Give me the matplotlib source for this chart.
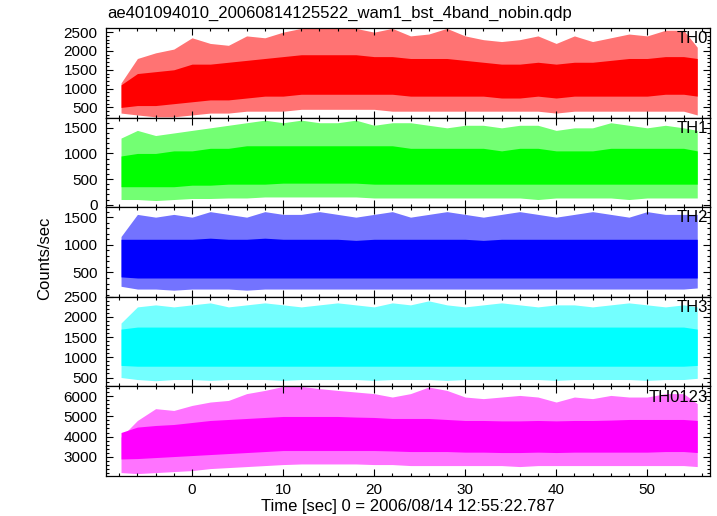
#!/usr/bin/env python3
"""
WAM 4-band light curve (TH0..TH3 and sum), drawn as read-off envelopes
"""

import numpy as np
import matplotlib
matplotlib.use("Agg")
import matplotlib.pyplot as plt
from matplotlib.ticker import MultipleLocator

plt.rcParams['font.family'] = ['Liberation Sans', 'DejaVu Sans']

# Time grid of the envelope readings (sec)
time = [-7.8, -6, -4, -2, 0, 2, 4, 6, 8, 10, 12, 14, 16, 18, 20, 22, 24, 26, 28,
        30, 32, 34, 36, 38, 40, 42, 44, 46, 48, 50, 52, 54, 55.5]

bands = ['TH0', 'TH1', 'TH2', 'TH3', 'TH0123']
colors = ['#ff0000', '#00ff00', '#0000ff', '#00ffff', '#ff00ff']

# spike maxima / dense band top / dense band bottom / spike minima (counts/sec)
th0_max = [1150, 1800, 1950, 2050, 2350, 2200, 2150, 2400, 2350, 2500, 2600, 2600, 2600, 2600, 2500, 2600, 2400,
           2450, 2600, 2400, 2300, 2250, 2300, 2400, 2200, 2400, 2250, 2350, 2450, 2400, 2550, 2550, 2100]
th0_hi = [1100, 1400, 1450, 1500, 1650, 1650, 1700, 1750, 1800, 1850, 1900, 1900, 1900, 1900, 1850, 1850, 1800,
          1800, 1800, 1750, 1700, 1650, 1650, 1700, 1650, 1700, 1700, 1750, 1800, 1800, 1850, 1850, 1800]
th0_lo = [500, 550, 550, 600, 650, 700, 700, 750, 800, 800, 850, 850, 850, 850, 850, 850, 800,
          800, 800, 800, 800, 750, 750, 800, 750, 800, 800, 800, 800, 800, 850, 850, 800]
th0_min = [350, 300, 250, 250, 300, 350, 350, 400, 400, 400, 450, 450, 450, 450, 450, 400, 400,
           400, 400, 400, 400, 400, 400, 400, 350, 400, 400, 400, 400, 400, 400, 400, 300]

th1_max = [1300, 1450, 1350, 1400, 1450, 1500, 1550, 1600, 1650, 1600, 1650, 1600, 1600, 1650, 1550, 1600, 1600,
           1550, 1500, 1550, 1550, 1500, 1550, 1550, 1450, 1500, 1500, 1600, 1550, 1500, 1550, 1500, 1450]
th1_hi = [950, 1000, 1000, 1050, 1050, 1100, 1100, 1150, 1150, 1150, 1150, 1150, 1150, 1150, 1150, 1150, 1100,
          1100, 1100, 1100, 1100, 1050, 1100, 1100, 1050, 1050, 1050, 1100, 1100, 1100, 1100, 1100, 1050]
th1_lo = [350, 350, 350, 350, 380, 380, 400, 400, 400, 420, 420, 420, 420, 420, 400, 400, 400,
          400, 400, 400, 400, 400, 400, 400, 400, 400, 400, 400, 400, 400, 400, 400, 400]
th1_min = [100, 100, 80, 100, 120, 120, 130, 130, 150, 150, 150, 150, 150, 150, 130, 130, 130,
           130, 130, 130, 130, 130, 130, 100, 130, 130, 130, 130, 100, 130, 130, 130, 130]

th2_max = [1150, 1550, 1500, 1550, 1500, 1600, 1550, 1500, 1600, 1550, 1550, 1600, 1550, 1500, 1550, 1600, 1500,
           1550, 1600, 1550, 1500, 1550, 1600, 1550, 1500, 1550, 1600, 1550, 1500, 1600, 1550, 1550, 1550]
th2_hi = [1100, 1100, 1100, 1100, 1100, 1120, 1100, 1100, 1120, 1100, 1100, 1100, 1100, 1080, 1100, 1100, 1100,
          1100, 1100, 1100, 1080, 1100, 1100, 1100, 1100, 1100, 1100, 1100, 1100, 1100, 1100, 1100, 1100]
th2_lo = [420, 400, 400, 400, 400, 400, 400, 400, 400, 400, 400, 400, 400, 400, 400, 400, 400,
          400, 400, 400, 400, 400, 400, 400, 400, 400, 400, 400, 400, 400, 400, 400, 400]
th2_min = [250, 200, 200, 180, 200, 200, 200, 180, 200, 200, 200, 200, 200, 200, 200, 200, 200,
           200, 200, 200, 200, 200, 200, 200, 200, 200, 200, 200, 200, 200, 200, 200, 220]

th3_max = [1850, 2250, 2300, 2250, 2300, 2350, 2250, 2300, 2350, 2300, 2250, 2300, 2350, 2300, 2250, 2350, 2300,
           2400, 2300, 2250, 2300, 2350, 2300, 2250, 2300, 2300, 2250, 2300, 2350, 2300, 2250, 2300, 2250]
th3_hi = [1700, 1750, 1750, 1750, 1750, 1750, 1750, 1750, 1750, 1750, 1750, 1750, 1750, 1750, 1750, 1750, 1750,
          1750, 1750, 1750, 1750, 1750, 1750, 1750, 1750, 1750, 1750, 1750, 1750, 1750, 1750, 1750, 1700]
th3_lo = [800, 780, 780, 780, 780, 780, 780, 780, 780, 780, 780, 780, 780, 780, 780, 780, 780,
          780, 780, 780, 780, 780, 780, 780, 780, 780, 780, 780, 780, 780, 780, 780, 800]
th3_min = [500, 450, 420, 450, 450, 430, 450, 450, 450, 430, 450, 450, 450, 450, 430, 450, 450,
           450, 430, 450, 450, 450, 450, 450, 430, 450, 450, 450, 450, 430, 450, 450, 480]

sum_max = [3970, 4800, 5390, 5300, 5550, 5720, 5800, 6140, 6300, 6500, 6500, 6390, 6300, 6220, 6140, 5970, 6140,
           6470, 6300, 5970, 5890, 5970, 6050, 5970, 5720, 5970, 5890, 6050, 5970, 5970, 6140, 6140, 5640]
sum_hi = [4200, 4470, 4550, 4600, 4700, 4800, 4850, 4900, 4950, 5000, 5000, 5000, 5000, 4970, 4950, 4900, 4900,
          4900, 4850, 4800, 4800, 4780, 4780, 4800, 4780, 4800, 4800, 4820, 4850, 4850, 4850, 4850, 4800]
sum_lo = [2880, 2900, 2950, 3000, 3050, 3100, 3150, 3200, 3250, 3300, 3300, 3300, 3300, 3300, 3300, 3280, 3250,
          3250, 3250, 3220, 3220, 3200, 3200, 3220, 3200, 3220, 3220, 3220, 3220, 3220, 3250, 3250, 3200]
sum_min = [2200, 2150, 2200, 2250, 2300, 2400, 2450, 2500, 2550, 2600, 2630, 2630, 2630, 2630, 2600, 2600, 2550,
           2550, 2550, 2550, 2550, 2550, 2500, 2550, 2550, 2550, 2550, 2550, 2550, 2550, 2550, 2550, 2500]

envelopes = [
    (th0_max, th0_hi, th0_lo, th0_min),
    (th1_max, th1_hi, th1_lo, th1_min),
    (th2_max, th2_hi, th2_lo, th2_min),
    (th3_max, th3_hi, th3_lo, th3_min),
    (sum_max, sum_hi, sum_lo, sum_min),
]

ylims = [(230, 2610), (-50, 1700), (60, 1680), (280, 2500), (2030, 6500)]
ymajor = [500, 500, 500, 500, 1000]


def main():
    fig = plt.figure(figsize=(7.17, 5.16), dpi=100)
    left, right = 106 / 717, 710 / 717
    top, bottom = 1 - 28 / 516, 1 - 476 / 516
    h = (top - bottom) / 5

    t = np.array(time)
    for i, (band, col, env) in enumerate(zip(bands, colors, envelopes)):
        ax = fig.add_axes([left, top - (i + 1) * h, right - left, h])
        vmax, vhi, vlo, vmin = [np.array(v) for v in env]

        # spiky outer envelope (lighter), then the dense core
        ax.fill_between(t, vmin, vmax, color=col, alpha=0.55, lw=0)
        ax.fill_between(t, vlo, vhi, color=col, lw=0)

        ax.set_xlim(-9.45, 56.9)
        ax.set_ylim(*ylims[i])
        ax.xaxis.set_major_locator(MultipleLocator(10))
        ax.xaxis.set_minor_locator(MultipleLocator(2))
        ax.yaxis.set_major_locator(MultipleLocator(ymajor[i]))
        ax.yaxis.set_minor_locator(MultipleLocator(ymajor[i] / 5))
        ax.tick_params(which='both', direction='in', top=True, right=True, labelsize=11)
        ax.tick_params(axis='y', pad=6)
        ax.tick_params(axis='x', pad=5)
        ax.tick_params(which='major', length=5, width=0.8)
        ax.tick_params(which='minor', length=2.5, width=0.8)
        for s in ax.spines.values():
            s.set_linewidth(0.9)
        if i < 4:
            ax.set_xticklabels([])

        ax.text(0.997, 0.88, band, transform=ax.transAxes, ha='right', va='center', fontsize=12)

    fig.text(left + 0.002, 1 - 13 / 516, 'ae401094010_20060814125522_wam1_bst_4band_nobin.qdp',
             ha='left', va='center', fontsize=12)
    fig.text(45 / 717, 1 - 258 / 516, 'Counts/sec', rotation=90, ha='center', va='center', fontsize=12)
    fig.text(408 / 717, 1 - 507 / 516, 'Time [sec] 0 = 2006/08/14 12:55:22.787',
             ha='center', va='center', fontsize=12)

    fig.savefig('out.png', dpi=100)


if __name__ == "__main__":
    main()
